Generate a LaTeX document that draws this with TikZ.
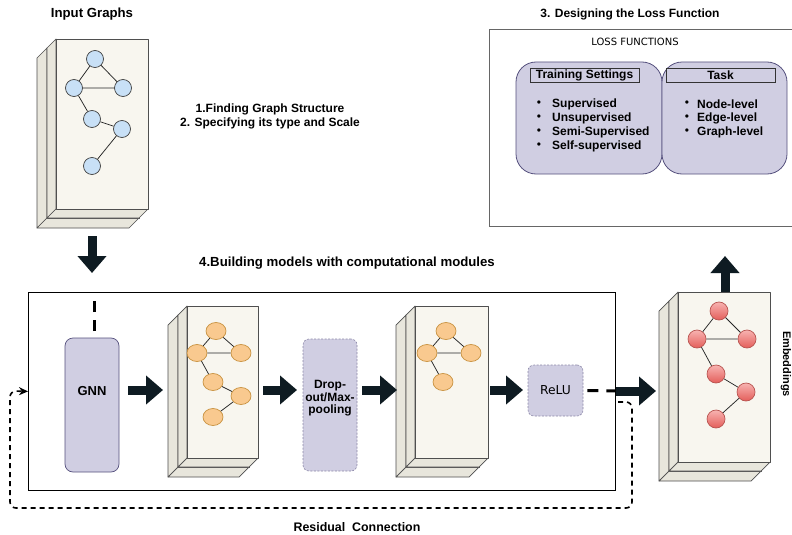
\documentclass[tikz,border=0pt]{standalone}
\usepackage{fontspec}
\setmainfont{Liberation Sans}
\newfontfamily\verdfont{DejaVu Sans}
\usetikzlibrary{arrows.meta,shapes.geometric}

\definecolor{lav}{HTML}{D0CEE2}
\definecolor{lavline}{HTML}{56517E}
\definecolor{lavdash}{HTML}{8C88A8}
\definecolor{cream}{HTML}{F8F6EF}
\definecolor{creamside}{HTML}{E8E6DC}
\definecolor{boxline}{HTML}{4F4F4F}
\definecolor{bluefill}{HTML}{C8E0F6}
\definecolor{orangefill}{HTML}{F9C98F}
\definecolor{orangeline}{HTML}{C8913F}
\definecolor{redtop}{HTML}{F7B3B1}
\definecolor{redbot}{HTML}{E45E5A}
\definecolor{redline}{HTML}{B85450}
\definecolor{arrowfill}{HTML}{0E1B22}

% one layer of a card stack: front face plus left and bottom faces of depth #5
\newcommand\cubelayer[5]{%
  \filldraw[stackedge,fill=creamside] (#1,#2) -- ({#1-#5},{#2+#5}) -- ({#1-#5},{#4+#5}) -- (#1,#4) -- cycle;
  \filldraw[stackedge,fill=creamside] (#1,#4) -- (#3,#4) -- ({#3-#5},{#4+#5}) -- ({#1-#5},{#4+#5}) -- cycle;
  \filldraw[stackedge,fill=cream] (#1,#2) rectangle (#3,#4);}
% two stacked layers, front face from (#1,#2) to (#3,#4)
\newcommand\layerstack[4]{%
  \cubelayer{#1-9}{#2+9}{#3-9}{#4+9}{10}%
  \cubelayer{#1}{#2}{#3}{#4}{9}}

\begin{document}
\begin{tikzpicture}[x=1pt,y=-1pt,
  stackedge/.style={draw=boxline, line width=0.7pt, line join=round},
  lbl/.style={font=\fontsize{12}{13.5}\selectfont\bfseries, inner sep=0, align=center},
  biglbl/.style={lbl, font=\fontsize{13.2}{15}\selectfont\bfseries},
  lighttext/.style={font=\verdfont\fontsize{10}{12}\selectfont, inner sep=0},
  gedge/.style={draw=black!85, line width=0.75pt},
  bnode/.style={circle, draw=black!75, line width=0.7pt, fill=bluefill, minimum size=17pt, inner sep=0},
  onode/.style={ellipse, draw=orangeline, line width=0.7pt, fill=orangefill, minimum width=20pt, minimum height=17pt, inner sep=0},
  rnode/.style={circle, draw=redline, line width=0.7pt, top color=redtop, bottom color=redbot, minimum size=18pt, inner sep=0},
  module/.style={draw=lavline, fill=lav, line width=0.7pt, rounded corners=8pt, inner sep=0},
  dashmodule/.style={draw=lavdash, fill=lav, line width=0.6pt, dash pattern=on 2pt off 1.5pt, rounded corners=6pt, inner sep=0},
  fat/.style={draw=arrowfill, line width=9pt, -{Triangle[length=17pt,width=28pt]}},
  thickdash/.style={draw=black, line width=3pt, dash pattern=on 11pt off 8pt},
  resid/.style={draw=black, line width=1.6pt, dash pattern=on 5pt off 4pt, rounded corners=6pt, -{Stealth[length=9pt,width=8pt]}},
  hdr/.style={draw=black!80, fill=lav, line width=0.7pt, inner sep=0},
  bul/.style={font=\fontsize{12}{12}\selectfont, inner sep=0},
  item/.style={font=\fontsize{12}{14}\selectfont\bfseries, inner sep=0, anchor=west}
]
\useasboundingbox (0,0) rectangle (792,535);
\fill[white] (0,0) rectangle (792,535);

% ---------- titles ----------
\node[biglbl] (tin) at (92,14) {Input Graphs};
\node[lbl] (tloss) at (630,14) {3. Designing the Loss Function};
\node[lbl] (tfind) at (270,116.5) {1.Finding Graph Structure\\2. Specifying its type and Scale};
\node[biglbl] (tbuild) at (347,263) {4.Building models with computational modules};
\node[lbl, font=\fontsize{12.4}{14}\selectfont\bfseries] (tres) at (357,527) {Residual\ \ Connection};
\node[lbl, rotate=-90, font=\fontsize{11}{13}\selectfont\bfseries] (temb) at (786,364) {Embeddings};

% ---------- loss function panel ----------
\draw[draw=black!60, line width=0.9pt] (793,29) -- (489,29) -- (489,226) -- (793,226);
\node[lighttext] (lf) at (635,42) {LOSS FUNCTIONS};
\filldraw[draw=lavline, fill=lav, line width=0.8pt, rounded corners=20pt] (516,62) rectangle (662,174);
\filldraw[draw=lavline, fill=lav, line width=0.8pt, rounded corners=20pt] (662,62) rectangle (787,174);
\node[hdr, minimum width=109pt, minimum height=14pt] (htrain) at (584.5,75) {};
\node[lbl] at (htrain) {Training Settings};
\node[hdr, minimum width=109pt, minimum height=14pt] (htask) at (720.5,75) {};
\node[lbl] at (htask) {Task};
\foreach \t [count=\i] in {Supervised,Unsupervised,Semi-Supervised,Self-supervised}{
  \node[bul] at (539,{90+14*\i}) {\textbullet};
  \node[item] at (552,{90+14*\i}) {\t};
}
\foreach \t [count=\i] in {Node-level,Edge-level,Graph-level}{
  \node[bul] at (687,{90+14*\i}) {\textbullet};
  \node[item] at (697,{90+14*\i}) {\t};
}

% ---------- input graph ----------
\layerstack{56}{39}{148}{209}
\node[bnode] (b1) at (95,59) {};
\node[bnode] (b2) at (74,88) {};
\node[bnode] (b3) at (123,88) {};
\node[bnode] (b4) at (92,119) {};
\node[bnode] (b5) at (122,129) {};
\node[bnode] (b6) at (92,166) {};
\draw[gedge] (b1) -- (b2) (b1) -- (b3) (b2) -- (b3) (b2) -- (b4) (b4) -- (b5) (b5) -- (b6);

\coordinate (dnS) at (92,236);
\coordinate (dnE) at (92,273);
\draw[fat] (dnS) -- (dnE);

% ---------- model block ----------
\node[draw=black, line width=0.8pt, minimum width=587pt, minimum height=198pt, inner sep=0, anchor=north west] (model) at (28,292) {};

\node[module, minimum width=54pt, minimum height=134pt] (gnn) at (92,405) {};
\node[lbl, font=\fontsize{13}{14}\selectfont\bfseries] at (92,391) {GNN};
\coordinate (gnnTop) at (94,300);
\draw[thickdash] (94,331) -- (gnnTop);

\layerstack{187}{306}{258}{458}
\node[onode] (o1) at (216,331) {};
\node[onode] (o2) at (197,353) {};
\node[onode] (o3) at (241,353) {};
\node[onode] (o4) at (213,382) {};
\node[onode] (o5) at (241,396) {};
\node[onode] (o6) at (213,417) {};
\draw[gedge] (o1) -- (o2) (o1) -- (o3) (o2) -- (o3) (o2) -- (o4) (o4) -- (o5) (o5) -- (o6);

\node[dashmodule, minimum width=54pt, minimum height=132pt] (drop) at (330,405) {};
\node[lbl, font=\fontsize{12}{12.5}\selectfont\bfseries] at (330,398.5) {Drop-\\out/Max-\\pooling};

\layerstack{415}{306}{488}{458}
\node[onode] (p1) at (446,331) {};
\node[onode] (p2) at (427,353) {};
\node[onode] (p3) at (471,353) {};
\node[onode] (p4) at (443,382) {};
\draw[gedge] (p1) -- (p2) (p1) -- (p3) (p2) -- (p3) (p2) -- (p4);

\node[dashmodule, minimum width=55pt, minimum height=51pt] (relu) at (555.5,390.5) {};
\node[lighttext, font=\verdfont\fontsize{12.3}{13}\selectfont] at (relu) {ReLU};

% block arrows between the stages
\coordinate (a1s) at (128,390); \coordinate (a1e) at (163,390);
\coordinate (a2s) at (263,390); \coordinate (a2e) at (297,390);
\coordinate (a3s) at (362,390); \coordinate (a3e) at (397,390);
\coordinate (a4s) at (490,390); \coordinate (a4e) at (523,390);
\draw[fat] (a1s) -- (a1e);
\draw[fat] (a2s) -- (a2e);
\draw[fat] (a3s) -- (a3e);
\draw[fat] (a4s) -- (a4e);

\coordinate (a5s) at (616,391); \coordinate (a5e) at (656,391);
\draw[thickdash] (relu.east) ++(4,0) -- (a5s);
\draw[fat] (a5s) -- (a5e);

% residual loop back to the model input
\coordinate (rstart) at (618,402);
\draw[resid] (rstart) -- (632,402) -- (632,508) -- (10,508) -- (10,391) -- (model.west);

% ---------- output embeddings ----------
\layerstack{678}{292}{770}{462}
\node[rnode] (r1) at (719,311) {};
\node[rnode] (r2) at (697,339) {};
\node[rnode] (r3) at (747,339) {};
\node[rnode] (r4) at (716,374) {};
\node[rnode] (r5) at (746,392) {};
\node[rnode] (r6) at (716,419) {};
\draw[gedge] (r1) -- (r2) (r1) -- (r3) (r2) -- (r3) (r2) -- (r4) (r4) -- (r5) (r5) -- (r6);

\coordinate (upS) at (725,292);
\coordinate (upE) at (725,256);
\draw[fat] (upS) -- (upE);
\end{tikzpicture}
\end{document}
